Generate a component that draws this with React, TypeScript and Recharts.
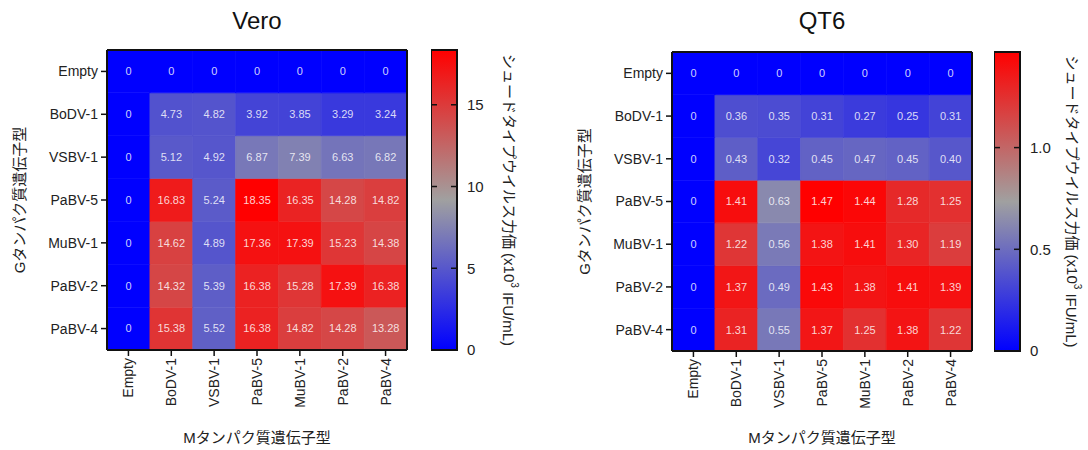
import React from "react"
import { Bar, BarChart, Cell, Label, LabelList, XAxis, YAxis } from "recharts"

// G protein genotypes (rows, top to bottom) and M protein genotypes (columns)
const gGenes = ["Empty", "BoDV-1", "VSBV-1", "PaBV-5", "MuBV-1", "PaBV-2", "PaBV-4"]
const mGenes = ["Empty", "BoDV-1", "VSBV-1", "PaBV-5", "MuBV-1", "PaBV-2", "PaBV-4"]

// pseudotype virus titer (x10^3 IFU/mL), one row per G genotype
const veroTiters = [
  [0, 0, 0, 0, 0, 0, 0],
  [0, 4.73, 4.82, 3.92, 3.85, 3.29, 3.24],
  [0, 5.12, 4.92, 6.87, 7.39, 6.63, 6.82],
  [0, 16.83, 5.24, 18.35, 16.35, 14.28, 14.82],
  [0, 14.62, 4.89, 17.36, 17.39, 15.23, 14.38],
  [0, 14.32, 5.39, 16.38, 15.28, 17.39, 16.38],
  [0, 15.38, 5.52, 16.38, 14.82, 14.28, 13.28],
]
const qt6Titers = [
  [0, 0, 0, 0, 0, 0, 0],
  [0, 0.36, 0.35, 0.31, 0.27, 0.25, 0.31],
  [0, 0.43, 0.32, 0.45, 0.47, 0.45, 0.4],
  [0, 1.41, 0.63, 1.47, 1.44, 1.28, 1.25],
  [0, 1.22, 0.56, 1.38, 1.41, 1.3, 1.19],
  [0, 1.37, 0.49, 1.43, 1.38, 1.41, 1.39],
  [0, 1.31, 0.55, 1.37, 1.25, 1.38, 1.22],
]
const veroTicks = [0, 5, 10, 15]
const qt6Ticks = [0, 0.5, 1.0]

const FONT = "'Liberation Sans', Arial, 'Noto Sans CJK JP', sans-serif"
const INK = "#111"
const BLUE = [0, 0, 255]
const GRAY = [160, 160, 160]
const RED = [255, 0, 0]

function titerColor(v: number, max: number) {
  const t = Math.min(1, Math.max(0, v / max))
  const [a, b, f] = t < 0.5 ? [BLUE, GRAY, t / 0.5] : [GRAY, RED, (t - 0.5) / 0.5]
  const c = a.map((x, i) => Math.round(x + (b[i] - x) * (f as number)))
  return `rgb(${c.join(",")})`
}

const MTick = ({ x, y, payload }: any) => (
  <text
    x={x}
    y={y}
    transform={`rotate(-90 ${x} ${y})`}
    textAnchor="end"
    dominantBaseline="central"
    fontSize={14}
    fill="#222"
    fontFamily={FONT}
  >
    {payload.value}
  </text>
)

const Empty = () => <g />

interface PanelProps {
  title: string
  titers: number[][]
  ticks: number[]
  tickFmt: (v: number) => string
  left: number
  top: number
  bottom: number
  cbLeft: number
  gradId: string
}

function Panel({ title, titers, ticks, tickFmt, left, top, bottom, cbLeft, gradId }: PanelProps) {
  const max = Math.max(...titers.flat())
  const n = gGenes.length
  const data = mGenes.map((m, j) => {
    const d: any = { m }
    gGenes.forEach((_, i) => {
      d[`r${i}`] = 1
      d[`t${i}`] = titers[i][j] === 0 ? "0" : titers[i][j].toFixed(2)
    })
    return d
  })
  const yTicks = gGenes.map((_, i) => n - 0.5 - i)
  const midX = 257
  const midY = (top + bottom) / 2
  const frame = { stroke: INK, strokeWidth: 2 }

  const CbTick = ({ x, y, payload }: any) => {
    const ax = x - 10
    return (
      <g>
        {payload.value > 0 && (
          <>
            <line x1={ax - 26} x2={ax - 20} y1={y} y2={y} stroke={INK} strokeWidth={1.5} />
            <line x1={ax - 6} x2={ax} y1={y} y2={y} stroke={INK} strokeWidth={1.5} />
          </>
        )}
        <text x={x} y={y} dy="0.36em" fontSize={15} fill="#222" fontFamily={FONT}>
          {tickFmt(payload.value)}
        </text>
      </g>
    )
  }

  return (
    <div style={{ position: "absolute", left, top: 0, width: 560, height: 450 }}>
      <div style={{ position: "absolute", left: 0, top: 0 }}>
        <BarChart
          width={420}
          height={450}
          data={data}
          margin={{ top: top - 1, right: 12, bottom: 0, left: 0 }}
          barCategoryGap={0}
          barGap={0}
        >
          <XAxis
            dataKey="m"
            interval={0}
            height={450 - bottom}
            tickSize={6}
            tickMargin={2}
            tick={(p: any) => <MTick {...p} />}
            tickLine={{ stroke: INK, strokeWidth: 1.5 }}
            axisLine={frame}
          >
            <Label
              content={() => (
                <text x={midX} y={443} textAnchor="middle" fontSize={15} fill="#222" fontFamily={FONT}>
                  Mタンパク質遺伝子型
                </text>
              )}
            />
          </XAxis>
          <XAxis
            xAxisId="top"
            orientation="top"
            dataKey="m"
            height={1}
            tick={Empty}
            tickLine={false}
            axisLine={frame}
          >
            <Label
              content={() => (
                <text x={midX} y={29} textAnchor="middle" fontSize={24} fill="#111" fontFamily={FONT}>
                  {title}
                </text>
              )}
            />
          </XAxis>
          <YAxis
            type="number"
            domain={[0, n]}
            ticks={yTicks}
            interval={0}
            width={107}
            tickSize={6}
            tickMargin={3}
            tickFormatter={(v: number) => gGenes[Math.round(n - 0.5 - v)]}
            tick={{ fontSize: 14, fill: "#222", fontFamily: FONT }}
            tickLine={{ stroke: INK, strokeWidth: 1.5 }}
            axisLine={frame}
          >
            <Label
              content={() => (
                <text
                  x={19}
                  y={midY}
                  transform={`rotate(-90 19 ${midY})`}
                  textAnchor="middle"
                  dominantBaseline="central"
                  fontSize={15}
                  fill="#222"
                  fontFamily={FONT}
                >
                  Gタンパク質遺伝子型
                </text>
              )}
            />
          </YAxis>
          <YAxis
            yAxisId="right"
            orientation="right"
            type="number"
            domain={[0, n]}
            width={1}
            tick={Empty}
            tickLine={false}
            axisLine={frame}
          />
          {gGenes
            .map((_, i) => i)
            .reverse()
            .map((i) => (
              <Bar key={gGenes[i]} dataKey={`r${i}`} stackId="h" isAnimationActive={false}>
                {mGenes.map((m, j) => {
                  const c = titerColor(titers[i][j], max)
                  return <Cell key={m} fill={c} stroke={c} strokeWidth={0.6} />
                })}
                <LabelList
                  dataKey={`t${i}`}
                  position="center"
                  fill="#ffffff"
                  fillOpacity={0.82}
                  fontSize={11}
                  fontFamily={FONT}
                />
              </Bar>
            ))}
        </BarChart>
      </div>
      <div style={{ position: "absolute", left: cbLeft, top: 0 }}>
        <BarChart
          width={126}
          height={450}
          data={[{ k: "bar", v: max }]}
          margin={{ top, right: 0, bottom: 450 - bottom, left: 0 }}
          barCategoryGap={0}
        >
          <defs>
            <linearGradient id={gradId} x1="0" y1="0" x2="0" y2="1">
              <stop offset="0%" stopColor="rgb(255,0,0)" />
              <stop offset="50%" stopColor={`rgb(${GRAY.join(",")})`} />
              <stop offset="100%" stopColor="rgb(0,0,255)" />
            </linearGradient>
          </defs>
          <XAxis dataKey="k" hide />
          <YAxis
            orientation="right"
            type="number"
            domain={[0, max]}
            ticks={ticks}
            interval={0}
            width={100}
            tickSize={8}
            tickMargin={2}
            tickLine={{ stroke: "none" }}
            axisLine={false}
            tick={(p: any) => <CbTick {...p} />}
          >
            <Label
              content={() => (
                <text
                  x={78}
                  y={midY}
                  transform={`rotate(90 78 ${midY})`}
                  textAnchor="middle"
                  dominantBaseline="central"
                  fontSize={15}
                  fill="#222"
                  fontFamily={FONT}
                >
                  シュードタイプウイルス力価 (x10
                  <tspan dy={-6} fontSize={10}>3</tspan>
                  <tspan dy={6}> IFU/mL)</tspan>
                </text>
              )}
            />
          </YAxis>
          <Bar
            dataKey="v"
            fill={`url(#${gradId})`}
            stroke={INK}
            strokeWidth={2}
            isAnimationActive={false}
          />
        </BarChart>
      </div>
    </div>
  )
}

export default function App() {
  return (
    <div style={{ position: "absolute", left: 0, top: 0, width: 1088, height: 450, background: "#fff" }}>
      <Panel
        title="Vero"
        titers={veroTiters}
        ticks={veroTicks}
        tickFmt={(v) => String(v)}
        left={0}
        top={50}
        bottom={350}
        cbLeft={431}
        gradId="vero-grad"
      />
      <Panel
        title="QT6"
        titers={qt6Titers}
        ticks={qt6Ticks}
        tickFmt={(v) => (v === 0 ? "0" : v.toFixed(1))}
        left={565}
        top={52}
        bottom={351}
        cbLeft={429}
        gradId="qt6-grad"
      />
    </div>
  )
}
